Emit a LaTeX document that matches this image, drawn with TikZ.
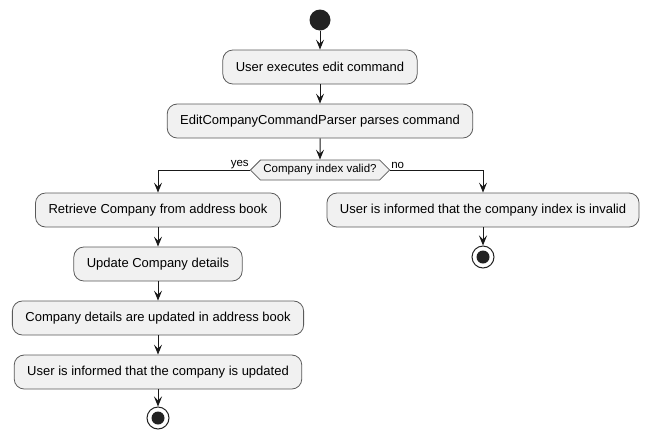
\documentclass[tikz,border=0pt]{standalone}
\usepackage{fontspec}
\setmainfont{Liberation Sans}
\usetikzlibrary{arrows.meta, shapes.symbols}
\definecolor{actfill}{HTML}{F1F1F1}
\definecolor{actline}{HTML}{5A5A5A}
\definecolor{dotfill}{HTML}{222222}

\begin{document}
\begin{tikzpicture}[x=1pt, y=-1pt,
    action/.style={draw=actline, fill=actfill, line width=0.8pt, rounded corners=10pt,
        minimum height=34pt, inner xsep=13pt, font=\fontsize{13}{15}\selectfont},
    choice/.style={signal, signal to=west and east, draw=actline, fill=actfill, line width=0.8pt,
        minimum height=20pt, inner xsep=3pt, inner ysep=0pt, font=\fontsize{11.5}{13}\selectfont},
    startdot/.style={circle, fill=dotfill, minimum size=21pt, inner sep=0pt},
    enddot/.style={circle, draw=dotfill, fill=white, line width=1pt, minimum size=22pt, inner sep=0pt,
        path picture={\fill[dotfill] (path picture bounding box.center) circle (6.5pt);}},
    flow/.style={draw=black!90, line width=1pt, -{Stealth[length=10pt, width=8pt, inset=4pt]}},
    branch/.style={font=\fontsize{11.5}{13}\selectfont, inner sep=1pt}]
    \useasboundingbox (0,0) rectangle (648,440);
    % Start and first steps
        \node[startdot] (start) at (320, 20) {};
        \node[action] (execute) at (320, 67) {User executes edit command};
        \node[action] (parse) at (320, 121) {EditCompanyCommandParser parses command};
        \node[choice] (valid) at (320, 170) {Company index valid?};
    % Branch yes
        \node[action] (retrieve) at (158, 210) {Retrieve Company from address book};
        \node[action] (update) at (158, 264) {Update Company details};
        \node[action] (stored) at (158, 318) {Company details are updated in address book};
        \node[action] (informok) at (158, 372) {User is informed that the company is updated};
        \node[enddot] (endok) at (158, 418) {};
    % Branch no
        \node[action] (informbad) at (483, 210) {User is informed that the company index is invalid};
        \node[enddot] (endbad) at (483, 257) {};
    % Arrows
        \draw[flow] (start) -- (execute);
        \draw[flow] (execute) -- (parse);
        \draw[flow] (parse) -- (valid);
        \draw[flow] (valid.west) -| (retrieve.north);
        \draw[flow] (retrieve) -- (update);
        \draw[flow] (update) -- (stored);
        \draw[flow] (stored) -- (informok);
        \draw[flow] (informok) -- (endok);
        \draw[flow] (valid.east) -| (informbad.north);
        \draw[flow] (informbad) -- (endbad);
        \node[branch, anchor=south east] at (valid.west) {yes};
        \node[branch, anchor=south west] at (valid.east) {no};
\end{tikzpicture}
\end{document}
